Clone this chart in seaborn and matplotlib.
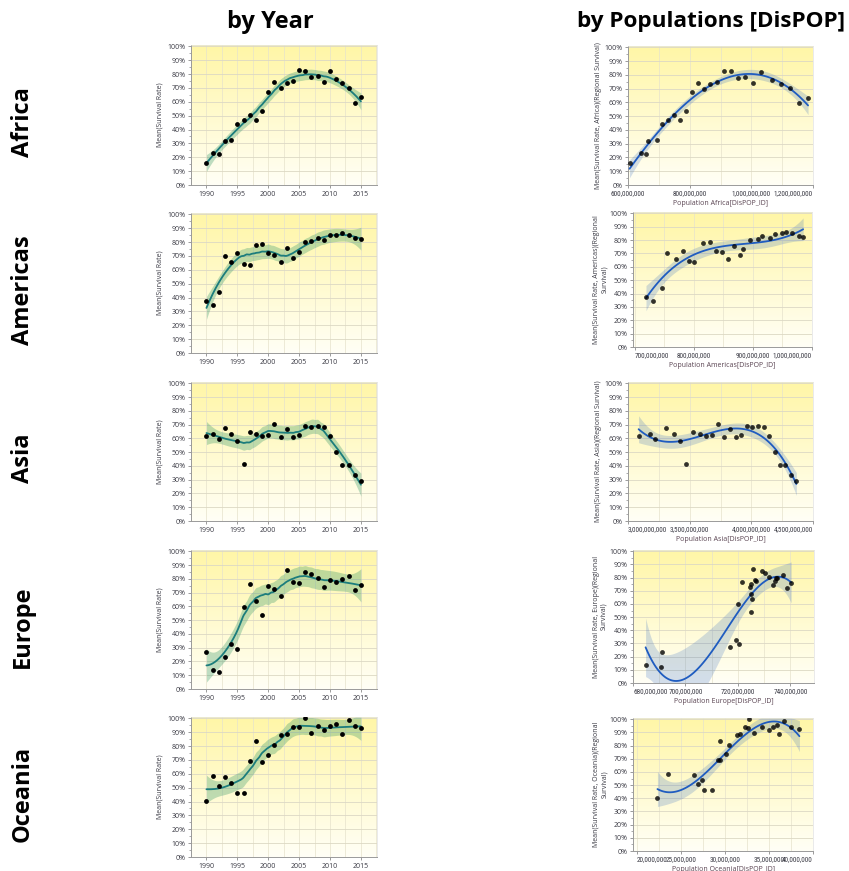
import numpy as np
import seaborn as sns
import matplotlib.pyplot as plt
from matplotlib import font_manager
from matplotlib.colors import LinearSegmentedColormap
from matplotlib.ticker import MultipleLocator, FuncFormatter

regions = ["Africa", "Americas", "Asia", "Europe", "Oceania"]
years = list(range(1990, 2016))

# mean survival rate (%) per year
africa_rate = [16.0, 23.3, 22.6, 31.9, 32.6, 44.0, 47.1, 50.5, 46.9, 53.6, 67.4, 74.3, 70.0,
               73.6, 74.8, 82.9, 82.6, 77.6, 78.3, 74.0, 82.4, 76.4, 73.3, 70.2, 59.3, 63.3]
americas_rate = [37.6, 34.3, 43.8, 70.2, 66.0, 71.9, 64.0, 63.8, 77.6, 78.6, 71.9, 71.0, 66.0,
                 75.7, 68.6, 73.1, 80.2, 80.7, 82.9, 81.4, 84.8, 85.2, 86.4, 85.2, 83.3, 82.4]
asia_rate = [61.4, 63.3, 59.7, 67.4, 63.5, 57.8, 41.2, 65.0, 63.5, 61.4, 62.8, 70.7, 60.9,
             66.9, 60.7, 62.6, 69.0, 68.3, 69.0, 68.3, 61.4, 50.1, 40.5, 40.5, 33.1, 29.3]
europe_rate = [27.0, 13.9, 12.4, 23.2, 32.5, 29.4, 59.8, 76.6, 63.9, 54.1, 74.9, 73.0, 67.5,
               86.6, 78.0, 77.3, 85.2, 83.7, 80.4, 74.2, 79.4, 77.5, 79.7, 82.3, 71.8, 75.6]
oceania_rate = [40.2, 58.1, 51.0, 57.4, 53.6, 46.0, 46.0, 69.0, 83.6, 68.8, 73.8, 80.5, 87.9,
                88.6, 94.0, 93.6, 100.0, 89.5, 94.3, 91.7, 94.5, 95.7, 89.0, 98.6, 94.3, 92.9]

# population (millions) per year
africa_pop = [605, 641, 657, 665, 694, 711, 731, 750, 768, 787, 806, 826, 846,
              867, 888, 910, 933, 957, 981, 1005, 1031, 1068, 1097, 1126, 1155, 1184]
americas_pop = [719, 731, 746, 754, 769, 782, 792, 800, 816, 828, 838, 848, 858,
                868, 878, 884, 895, 909, 916, 929, 937, 950, 956, 966, 978, 985]
asia_pop = [3086, 3178, 3216, 3311, 3370, 3424, 3473, 3530, 3581, 3630, 3681, 3730, 3778,
            3824, 3873, 3919, 3965, 4008, 4054, 4100, 4143, 4189, 4232, 4276, 4322, 4365]
europe_pop = [717.0, 684.8, 690.5, 691.0, 719.4, 720.5, 720.0, 721.5, 725.5, 724.9, 725.0, 724.5, 724.8,
              725.6, 726.5, 727.0, 729.0, 730.4, 732.0, 733.4, 734.5, 734.0, 735.0, 737.0, 738.6, 740.3]
oceania_pop = [22.37, 23.53, 26.99, 26.47, 27.41, 27.6, 28.53, 29.2, 29.5, 29.5, 30.15, 30.53, 31.35,
               31.7, 32.33, 32.6, 32.74, 33.35, 34.25, 34.96, 35.5, 35.97, 36.17, 36.73, 37.56, 38.46]

rates = [africa_rate, americas_rate, asia_rate, europe_rate, oceania_rate]
pops = [africa_pop, americas_pop, asia_pop, europe_pop, oceania_pop]

pop_xlim = [(600, 1200), (697, 1000), (3000, 4500), (680, 749), (19.6, 40)]
pop_major = [200, 100, 500, 20, 5]
first_ha = ["center", "left", "left", "left", "left"]

sns.set_style("white")
plt.rcParams["font.family"] = ["Open Sans", "DejaVu Sans"]

# narrow face for the long population tick labels, if one is installed
installed = {f.name for f in font_manager.fontManager.ttflist}
narrow = None
for cand in ["Liberation Sans Narrow", "DejaVu Sans Condensed", "Roboto Condensed"]:
    if cand in installed:
        narrow = cand
        break
pop_tick_font = dict(family=narrow, size=5.2) if narrow else dict(family="Open Sans", size=4.4)

W, H = 849, 871
fig = plt.figure(figsize=(W / 100, H / 100), dpi=100)

# pixel boxes: left, right, top(100%), bottom(0%)
left_boxes = [(191, 377, 45, 185), (191, 377, 213, 353), (191, 377, 382, 521),
              (191, 377, 550, 689), (191, 377, 717, 857)]
right_boxes = [(628, 813, 46, 185), (633, 812, 212, 347), (628, 813, 382, 521),
               (633, 814, 550, 683), (633, 813, 718, 851)]

bg_cmap = LinearSegmentedColormap.from_list("bg", ["#fffff6", "#fff6a6"])
teal = "#1c7d7c"
blue = "#1f5cc0"


def box_axes(b):
    l, r, t, bt = b
    return fig.add_axes([l / W, 1 - bt / H, (r - l) / W, (bt - t) / H])


def style(ax):
    ax.imshow(np.linspace(0, 1, 256).reshape(-1, 1), cmap=bg_cmap, origin="lower",
              extent=[0, 1, 0, 1], transform=ax.transAxes, aspect="auto", zorder=0)
    ax.yaxis.set_major_locator(MultipleLocator(10))
    ax.yaxis.set_minor_locator(MultipleLocator(5))
    ax.yaxis.set_major_formatter(FuncFormatter(lambda v, p: f"{v:.0f}%"))
    ax.grid(axis="y", which="major", color="#dcd8c4", lw=0.6, zorder=1)
    ax.grid(axis="x", which="both", color="#e6e2cc", lw=0.5, zorder=1)
    ax.tick_params(axis="both", which="major", labelsize=5, colors="#8a8a8a",
                   labelcolor="#3a3a44", length=2.5, width=0.6, pad=1.5, direction="out",
                   left=True, bottom=True)
    ax.tick_params(axis="y", which="minor", length=1.5, width=0.5, colors="#8a8a8a", left=True)
    ax.tick_params(axis="x", which="minor", length=0)
    for s in ["left", "bottom"]:
        ax.spines[s].set_color("#9a9a9a")
        ax.spines[s].set_linewidth(0.7)
    for s in ["top", "right"]:
        ax.spines[s].set_color("#e2e2e2")
        ax.spines[s].set_linewidth(0.5)
    ax.set_axisbelow(True)


def loess_fit(x, y, grid, span=0.48, deg=2):
    x = np.asarray(x, float)
    y = np.asarray(y, float)
    n = len(x)
    k = max(deg + 2, int(np.ceil(span * n)))

    def row(g):
        d = np.abs(x - g)
        h = np.sort(d)[k - 1] * 1.0001
        w = np.clip(1 - (d / h) ** 3, 0, None) ** 3
        X = np.vander(x - g, deg + 1, increasing=True)
        XtW = X.T * w
        return np.linalg.solve(XtW @ X, XtW)[0]

    L = np.array([row(g) for g in grid])
    Lx = np.array([row(g) for g in x])
    res = y - Lx @ y
    sigma = np.sqrt(np.sum(res ** 2) / (n - np.trace(Lx)))
    se = sigma * np.sqrt(np.sum(L ** 2, axis=1))
    fit = L @ y
    return fit, fit - 1.96 * se, fit + 1.96 * se


def poly_band(x, y, grid, order=3):
    x = np.asarray(x, float)
    y = np.asarray(y, float)
    m, s = x.mean(), x.std()
    X = np.vander((x - m) / s, order + 1)
    G = np.vander((grid - m) / s, order + 1)
    beta = np.linalg.lstsq(X, y, rcond=None)[0]
    res = y - X @ beta
    s2 = res @ res / (len(x) - order - 1)
    cov = s2 * np.linalg.inv(X.T @ X)
    se = np.sqrt(np.einsum("ij,jk,ik->i", G, cov, G))
    fit = G @ beta
    return fit - 2.07 * se, fit + 2.07 * se


for i, region in enumerate(regions):
    # by year
    ax = box_axes(left_boxes[i])
    style(ax)
    grid = np.linspace(1990, 2015, 200)
    fit, lo, hi = loess_fit(years, rates[i], grid)
    ax.fill_between(grid, lo, hi, color="#3a9a6a", alpha=0.33, lw=0, zorder=2)
    sns.lineplot(x=grid, y=fit, ax=ax, color=teal, lw=1.3, zorder=3)
    sns.scatterplot(x=years, y=rates[i], ax=ax, color="black", s=12, linewidth=0, zorder=4)
    ax.xaxis.set_major_locator(MultipleLocator(5))
    ax.xaxis.set_minor_locator(MultipleLocator(2.5))
    ax.set_xlim(1987.5, 2017.6)
    ax.set_ylim(0, 101)
    ax.set_xlabel("")
    ax.set_ylabel("Mean(Survival Rate)", fontsize=5, color="#3a3a44")
    ax.yaxis.set_label_coords(-0.15, 0.5)

    # by population
    ax = box_axes(right_boxes[i])
    style(ax)
    pgrid = np.linspace(min(pops[i]), max(pops[i]), 200)
    lo, hi = poly_band(pops[i], rates[i], pgrid)
    ax.fill_between(pgrid, lo, hi, color=blue, alpha=0.2, lw=0, zorder=2)
    sns.regplot(x=pops[i], y=rates[i], order=3, ci=None, ax=ax,
                scatter_kws=dict(color="black", s=12, linewidths=0, zorder=4),
                line_kws=dict(color=blue, lw=1.3, zorder=3))
    xl, xr = pop_xlim[i]
    step = pop_major[i]
    ticks = np.arange(np.ceil(xl / step) * step, xr + 1e-6, step)
    ax.set_xticks(ticks)
    ax.xaxis.set_minor_locator(MultipleLocator(step / 2))
    labels = ax.set_xticklabels([f"{v * 1e6:,.0f}" for v in ticks], **pop_tick_font)
    labels[0].set_ha(first_ha[i])
    if abs(ticks[-1] - xr) < step * 0.05:
        labels[-1].set_ha("right")
    ax.set_xlim(xl, xr)
    ax.set_ylim(0, 101)
    ax.set_xlabel(f"Population {region}[DisPOP_ID]", fontsize=5, color="#5a4452", labelpad=1.5)
    if region in ("Africa", "Asia"):
        ylab = f"Mean(Survival Rate, {region})(Regional Survival)"
    else:
        ylab = f"Mean(Survival Rate, {region})(Regional\nSurvival)"
    ax.set_ylabel(ylab, fontsize=5, color="#3a3a44", linespacing=1.1)
    ax.yaxis.set_label_coords(-0.14, 0.5)

    # row label
    cy = (left_boxes[i][2] + left_boxes[i][3]) / 2 + 7
    fig.text(23 / W, 1 - cy / H, region, rotation=90, ha="center", va="center",
             fontsize=17, fontweight="bold", color="black")

fig.text(270 / W, 1 - 22 / H, "by Year", ha="center", va="center", fontsize=17,
         fontweight="bold", color="black")
fig.text(711 / W, 1 - 22 / H, "by Populations [DisPOP]", ha="center", va="center",
         fontsize=16.2, fontweight="bold", color="black")

fig.savefig("out.png", dpi=100)
